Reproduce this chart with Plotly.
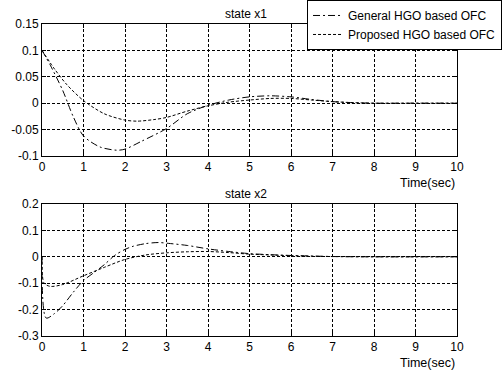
import plotly.graph_objects as go
from plotly.subplots import make_subplots

# ---- data ----
t1_gen = [0, 0.2, 0.5, 0.75, 1.0, 1.4, 1.8, 2.0, 2.4, 3.0, 3.5, 4.0, 4.5, 5.0, 5.5, 6.0, 6.5, 7.0, 7.5, 8, 9, 10]
x1_gen = [0.1, 0.072, 0.024, -0.025, -0.062, -0.083, -0.089, -0.087, -0.072, -0.048, -0.02, -0.004, 0.006, 0.012, 0.014, 0.012, 0.007, 0.003, 0.001, 0, 0, 0]

t1_pro = [0, 0.3, 0.6, 1.0, 1.5, 2.0, 2.3, 2.7, 3.0, 3.5, 4.0, 4.5, 5.0, 5.5, 6.0, 6.5, 7.0, 7.5, 8, 9, 10]
x1_pro = [0.1, 0.065, 0.035, 0.005, -0.02, -0.032, -0.034, -0.031, -0.027, -0.015, -0.005, 0.002, 0.006, 0.009, 0.009, 0.006, 0.003, 0.001, 0, 0, 0]

t2_gen = [0, 0.1, 0.3, 0.5, 0.75, 1.0, 1.25, 1.5, 1.75, 2.0, 2.2, 2.5, 2.8, 3.1, 3.5, 4.0, 4.5, 5.0, 5.5, 6.0, 6.5, 7.0, 8, 9, 10]
x2_gen = [0, -0.232, -0.215, -0.185, -0.135, -0.09, -0.06, -0.03, 0.005, 0.028, 0.04, 0.05, 0.054, 0.05, 0.043, 0.03, 0.02, 0.012, 0.008, 0.005, 0.003, 0.001, 0, 0, 0]

t2_pro = [0, 0.05, 0.2, 0.5, 1.0, 1.5, 2.0, 2.5, 3.0, 3.5, 4.0, 4.5, 5.0, 5.5, 6.0, 6.5, 7.0, 8, 9, 10]
x2_pro = [0, -0.1, -0.112, -0.105, -0.072, -0.04, -0.01, 0.007, 0.015, 0.019, 0.02, 0.016, 0.01, 0.007, 0.004, 0.002, 0.001, 0, 0, 0]

x_ticks = [0, 1, 2, 3, 4, 5, 6, 7, 8, 9, 10]
y1_ticks = [0.15, 0.1, 0.05, 0, -0.05, -0.1]
y1_text = ["0.15", "0.1", "0.05", "0", "-0.05", "-0.1"]
y2_ticks = [0.2, 0.1, 0, -0.1, -0.2, -0.3]
y2_text = ["0.2", "0.1", "0", "-0.1", "-0.2", "-0.3"]

names = ["General HGO based OFC", "Proposed HGO based OFC"]
titles = ["state x1", "state x2"]
xlabel = "Time(sec)"

FONT = "Liberation Sans, Arial, sans-serif"

fig = make_subplots(rows=2, cols=1, vertical_spacing=0.1538)

gen_dash = "7px,3px,2px,3px"
pro_dash = "3px,2px"

fig.add_trace(go.Scatter(x=t1_gen, y=x1_gen, mode="lines", name=names[0],
                         line=dict(color="black", width=1, dash=gen_dash, shape="spline", smoothing=0.8)), row=1, col=1)
fig.add_trace(go.Scatter(x=t1_pro, y=x1_pro, mode="lines", name=names[1],
                         line=dict(color="black", width=1, dash=pro_dash, shape="spline", smoothing=0.8)), row=1, col=1)
fig.add_trace(go.Scatter(x=t2_gen, y=x2_gen, mode="lines", name=names[0], showlegend=False,
                         line=dict(color="black", width=1, dash=gen_dash, shape="spline", smoothing=0.8)), row=2, col=1)
fig.add_trace(go.Scatter(x=t2_pro, y=x2_pro, mode="lines", name=names[1], showlegend=False,
                         line=dict(color="black", width=1, dash=pro_dash, shape="spline", smoothing=0.8)), row=2, col=1)

axis_common = dict(showline=True, linecolor="black", linewidth=1, mirror="ticks",
                   ticks="inside", ticklen=4, tickcolor="black",
                   showgrid=True, gridcolor="black", gridwidth=1, griddash="3px,2px",
                   zeroline=False, tickfont=dict(family=FONT, size=12, color="black"))

fig.update_xaxes(range=[0, 10], tickvals=x_ticks, **axis_common)
fig.update_yaxes(range=[-0.1, 0.15], tickvals=y1_ticks, ticktext=y1_text, row=1, col=1, **axis_common)
fig.update_yaxes(range=[-0.3, 0.2], tickvals=y2_ticks, ticktext=y2_text, row=2, col=1, **axis_common)

fig.update_layout(
    width=503, height=374,
    margin=dict(l=42, r=46, t=24, b=38, autoexpand=False),
    paper_bgcolor="white", plot_bgcolor="white",
    font=dict(family=FONT, size=12, color="black"),
    legend=dict(x=0.6386, y=1.077, xanchor="left", yanchor="top",
                bgcolor="white", bordercolor="black", borderwidth=1,
                font=dict(family=FONT, size=12, color="black"),
                tracegroupgap=0, itemwidth=30),
    annotations=[
        dict(text=titles[0], x=0.5, y=1.0, xref="paper", yref="paper", xanchor="center", yanchor="bottom",
             showarrow=False, font=dict(family=FONT, size=12), yshift=1, xshift=-4),
        dict(text=titles[1], x=0.5, y=0.4231, xref="paper", yref="paper", xanchor="center", yanchor="bottom",
             showarrow=False, font=dict(family=FONT, size=12), yshift=1, xshift=-4),
        dict(text=xlabel, x=1.0, y=0.5769, xref="paper", yref="paper", xanchor="right", yanchor="top",
             showarrow=False, font=dict(family=FONT, size=12.5), yshift=-18),
        dict(text=xlabel, x=1.0, y=0.0, xref="paper", yref="paper", xanchor="right", yanchor="top",
             showarrow=False, font=dict(family=FONT, size=12.5), yshift=-18),
    ],
)

fig.write_html("out.html")
